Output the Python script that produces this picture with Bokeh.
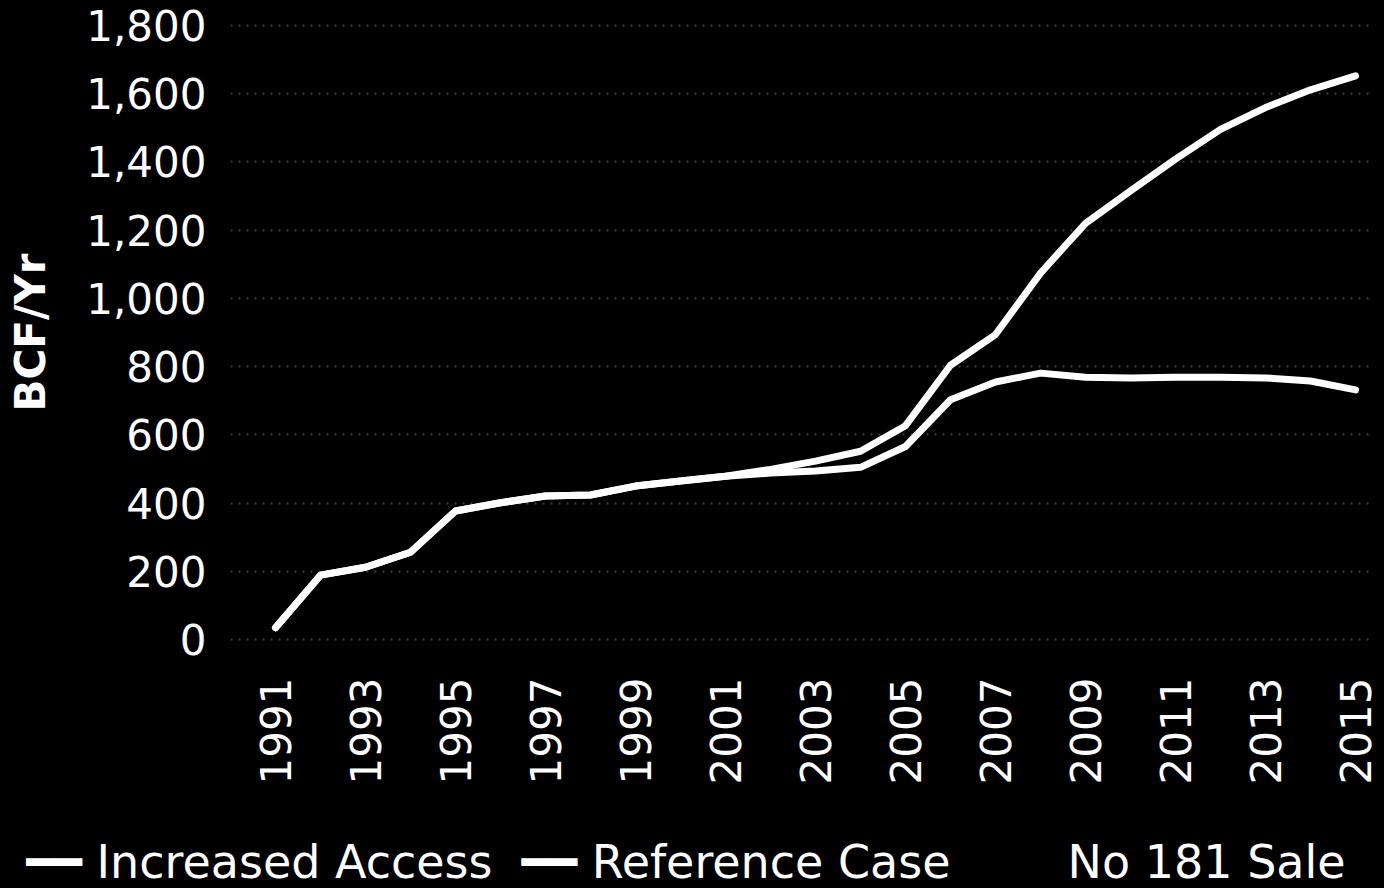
import math
from bokeh.plotting import figure
from bokeh.models import (ColumnDataSource, FixedTicker, NumeralTickFormatter,
                          Range1d, Title)
from bokeh.embed import file_html
from bokeh.resources import INLINE

# ---- data ----
years = [1991, 1992, 1993, 1994, 1995, 1996, 1997, 1998, 1999, 2000,
         2001, 2002, 2003, 2004, 2005, 2006, 2007, 2008, 2009, 2010,
         2011, 2012, 2013, 2014, 2015]
increased_access = [35, 189, 212, 256, 377, 401, 421, 424, 450, 465,
                    479, 499, 523, 552, 627, 804, 894, 1074, 1220, 1315,
                    1408, 1495, 1559, 1611, 1652]
reference_case = [35, 189, 212, 256, 377, 401, 421, 424, 450, 465,
                  479, 488, 494, 505, 566, 703, 755, 781, 769, 767,
                  769, 769, 767, 758, 732]
x_ticks = [1991, 1993, 1995, 1997, 1999, 2001, 2003, 2005, 2007, 2009, 2011, 2013, 2015]
y_ticks = [0, 200, 400, 600, 800, 1000, 1200, 1400, 1600, 1800]
series_labels = ["Increased Access", "Reference Case"]
y_label = "BCF/Yr"
note_text = "No 181 Sale"

FONT = "DejaVu Sans"
NB = "\u00a0"
SWATCH = "\u2501\u2501"

p = figure(width=1384, height=888, output_backend="svg", toolbar_location=None,
           x_range=Range1d(1990.0, 2015.333), y_range=Range1d(-43.5, 1843.5),
           min_border_left=230, min_border_right=14, min_border_top=10,
           min_border_bottom=228)
p.background_fill_color = "black"
p.border_fill_color = "black"
p.outline_line_color = None

src = ColumnDataSource(dict(year=years, ia=increased_access, rc=reference_case))
r_rc = p.line("year", "rc", source=src, line_color="white", line_width=7,
              line_join="round", line_cap="round")
r_ia = p.line("year", "ia", source=src, line_color="white", line_width=7,
              line_join="round", line_cap="round")

# axes
for ax in (p.xaxis[0], p.yaxis[0]):
    ax.axis_line_color = None
    ax.major_tick_line_color = None
    ax.minor_tick_line_color = None
    ax.major_label_text_color = "white"
    ax.major_label_text_font = FONT
    ax.major_label_text_font_size = "42px"

p.xaxis.ticker = FixedTicker(ticks=x_ticks)
p.xaxis.major_label_orientation = math.pi / 2
p.xaxis.major_label_standoff = 17
# blank spacer label: leaves room between the year labels and the key row
p.xaxis.axis_label = NB
p.xaxis.axis_label_text_font_size = "1px"
p.xaxis.axis_label_standoff = 41

p.yaxis.ticker = FixedTicker(ticks=y_ticks)
p.yaxis.formatter = NumeralTickFormatter(format="0,0")
p.yaxis.major_label_standoff = 18
p.yaxis.axis_label = y_label
p.yaxis.axis_label_text_color = "white"
p.yaxis.axis_label_text_font = FONT
p.yaxis.axis_label_text_font_size = "42px"
p.yaxis.axis_label_text_font_style = "bold"
p.yaxis.axis_label_standoff = 28

p.xgrid.visible = False
p.ygrid.ticker = FixedTicker(ticks=y_ticks)
p.ygrid.grid_line_color = "#8a8a8a"
p.ygrid.grid_line_dash = "2 6"
p.ygrid.grid_line_width = 2
p.ygrid.grid_line_alpha = 0.45

# key row (swatches + series names + note), below the year labels
legend_text = (SWATCH + NB + series_labels[0] + NB * 2 + SWATCH + NB +
               series_labels[1] + NB * 8 + note_text)
key = Title(text=legend_text, align="left", offset=-204, standoff=0,
            text_color="white", text_font=FONT, text_font_size="46px",
            text_font_style="normal")
p.add_layout(key, "below")

html = file_html(p, INLINE)
html = html.replace("</head>", "<style>html,body{background:#000;}</style></head>", 1)
open("out.html", "w").write(html)
